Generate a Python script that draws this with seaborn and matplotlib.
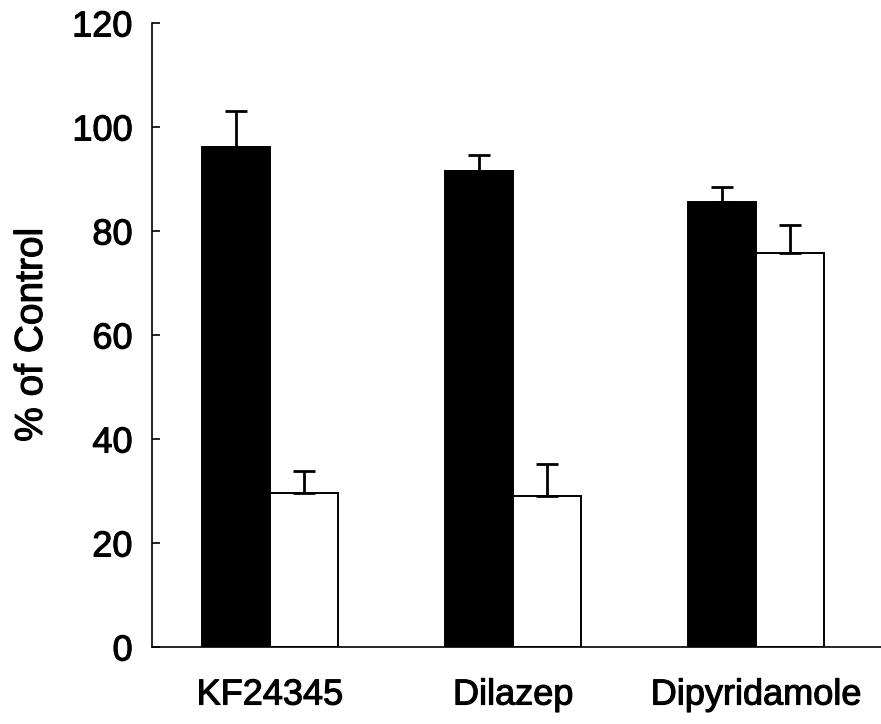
import matplotlib
matplotlib.use("Agg")
import matplotlib.pyplot as plt
import matplotlib.patheffects as pe
import seaborn as sns
import pandas as pd

drugs = ["KF24345", "Dilazep", "Dipyridamole"]
conditions = ["Vehicle", "Treated"]
means_vehicle = [96.2, 91.5, 85.6]
means_treated = [29.6, 29.0, 75.8]
sem_vehicle = [6.9, 3.1, 2.9]
sem_treated = [4.2, 6.2, 5.4]

df = pd.DataFrame({
    "drug": drugs * 2,
    "condition": [conditions[0]] * 3 + [conditions[1]] * 3,
    "value": means_vehicle + means_treated,
})

sns.set_style("ticks")
plt.rcParams["font.family"] = ["Liberation Sans", "DejaVu Sans"]
plt.rcParams["text.color"] = "black"
plt.rcParams["xtick.color"] = "black"
plt.rcParams["ytick.color"] = "black"
plt.rcParams["axes.labelcolor"] = "black"

fig = plt.figure(figsize=(8.81, 7.24), dpi=100)
ax = fig.add_axes([0.1725, 0.1064, 0.8275, 0.8619])

sns.barplot(
    data=df, x="drug", y="value", hue="condition", order=drugs,
    hue_order=conditions, palette=["black", "white"], width=0.56,
    gap=0, errorbar=None, edgecolor="black", linewidth=1.4,
    legend=False, ax=ax, saturation=1,
)

errs = [sem_vehicle, sem_treated]
vals = [means_vehicle, means_treated]
for cont, err, val in zip(ax.containers, errs, vals):
    xs = [b.get_x() + b.get_width() / 2 for b in cont]
    ax.errorbar(xs, val, yerr=[[0] * len(err), err], fmt="none",
                ecolor="black", elinewidth=2, capsize=8, capthick=2,
                zorder=1)

ax.set_ylim(0, 120)
ax.set_xlim(-0.486, 2.515)
ax.set_yticks(range(0, 121, 20))
ax.tick_params(axis="y", direction="in", length=6, width=1.2,
               labelsize=26, pad=14, colors="black")
ax.tick_params(axis="x", length=0, labelsize=26, pad=22, colors="black")
ax.set_xlabel("")
ax.set_ylabel("% of Control", fontsize=28, labelpad=16, color="black")
for s in ["top", "right"]:
    ax.spines[s].set_visible(False)
for s in ["left", "bottom"]:
    ax.spines[s].set_linewidth(1.2)
    ax.spines[s].set_color("black")

# slightly heavier strokes for all text
heavy = [pe.withStroke(linewidth=0.8, foreground="black")]
for t in ax.get_xticklabels() + ax.get_yticklabels() + [ax.yaxis.label]:
    t.set_path_effects(heavy)

fig.savefig("out.png", dpi=100)
